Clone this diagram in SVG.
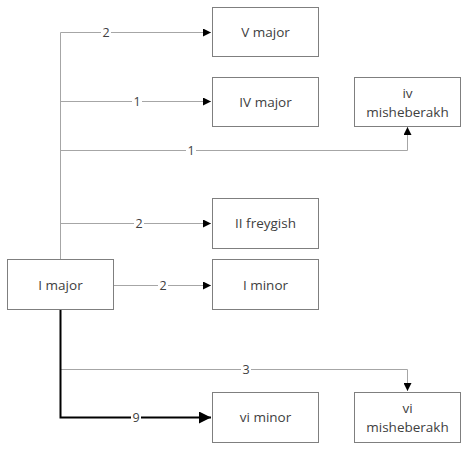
<svg xmlns="http://www.w3.org/2000/svg" width="468" height="450" viewBox="0 0 468 450">
<style>
.node rect{fill:#fff;stroke:#7f7f7f;stroke-width:1}
.node text{font-family:"Open Sans","Noto Sans",sans-serif;font-size:13.5px;fill:#404040;text-anchor:middle}
.thin{fill:none;stroke:#a6a6a6;stroke-width:1}
.thick{fill:none;stroke:#000;stroke-width:2}
.lbl{font-family:"Open Sans","Noto Sans",sans-serif;font-size:12.5px;fill:#404040;text-anchor:middle}
.lblbg{fill:#fff}
</style>
<defs>
<marker id="ah" markerWidth="8" markerHeight="8" refX="8" refY="4" orient="auto" markerUnits="userSpaceOnUse">
<path d="M0,0 L8,4 L0,8 Z" fill="#000"/>
</marker>
<marker id="ahb" markerWidth="12" markerHeight="12" refX="12" refY="6" orient="auto" markerUnits="userSpaceOnUse">
<path d="M0,0 L12,6 L0,12 Z" fill="#000"/>
</marker>
</defs>
<rect width="468" height="450" fill="#fff"/>
<g id="connectors">
<path class="thin" d="M60.5,259.5 V32.5 H211" marker-end="url(#ah)"/>
<path class="thin" d="M60.5,101.5 H211" marker-end="url(#ah)"/>
<path class="thin" d="M60.5,150.5 H407.5 V127" marker-end="url(#ah)"/>
<path class="thin" d="M60.5,223.5 H211" marker-end="url(#ah)"/>
<path class="thin" d="M114,285.5 H211" marker-end="url(#ah)"/>
<path class="thin" d="M60.5,369.5 H407.5 V391" marker-end="url(#ah)"/>
<path class="thick" d="M60.5,309.5 V417.5 H211" marker-end="url(#ahb)"/>
<rect class="lblbg" x="101" y="25" width="10" height="14"/>
<text class="lbl" x="106" y="37">2</text>
<rect class="lblbg" x="132" y="94" width="10" height="14"/>
<text class="lbl" x="137" y="106">1</text>
<rect class="lblbg" x="186" y="143" width="10" height="14"/>
<text class="lbl" x="191" y="155">1</text>
<rect class="lblbg" x="134" y="216" width="10" height="14"/>
<text class="lbl" x="139" y="228">2</text>
<rect class="lblbg" x="158" y="278" width="10" height="14"/>
<text class="lbl" x="163" y="290">2</text>
<rect class="lblbg" x="241" y="362" width="10" height="14"/>
<text class="lbl" x="246" y="374">3</text>
<rect class="lblbg" x="131" y="410" width="10" height="14"/>
<text class="lbl" x="136" y="422">9</text>
</g>
<g id="n_Imajor" class="node"><rect x="7.5" y="259.5" width="106" height="50"/><text x="60.5" y="289.5">I major</text></g>
<g id="n_Vmajor" class="node"><rect x="212.5" y="7.5" width="106" height="49"/><text x="265.5" y="37">V major</text></g>
<g id="n_IVmajor" class="node"><rect x="212.5" y="77.5" width="106" height="49"/><text x="265.5" y="107">IV major</text></g>
<g id="n_ivmish" class="node"><rect x="354.5" y="77.5" width="106" height="49"/><text x="407.5" y="98">iv</text><text x="407.5" y="117">misheberakh</text></g>
<g id="n_IIfrey" class="node"><rect x="212.5" y="198.5" width="106" height="50"/><text x="265.5" y="228">II freygish</text></g>
<g id="n_Iminor" class="node"><rect x="212.5" y="259.5" width="106" height="50"/><text x="265.5" y="289.5">I minor</text></g>
<g id="n_viminor" class="node"><rect x="212.5" y="392.5" width="106" height="50"/><text x="265.5" y="422">vi minor</text></g>
<g id="n_vimish" class="node"><rect x="354.5" y="392.5" width="106" height="50"/><text x="407.5" y="413">vi</text><text x="407.5" y="432">misheberakh</text></g>
</svg>
